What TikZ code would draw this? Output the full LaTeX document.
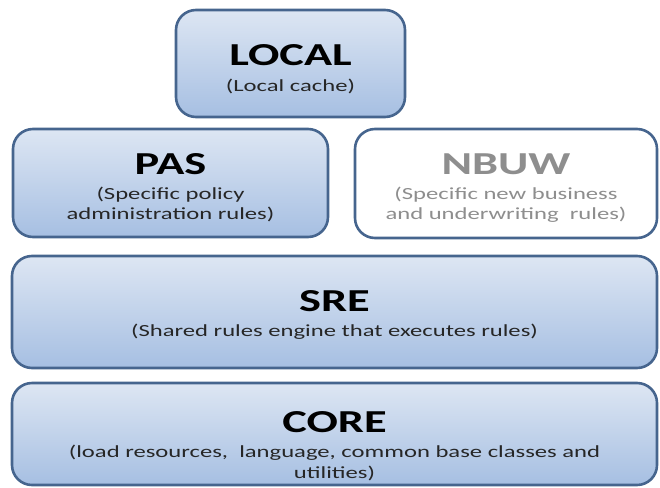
\documentclass[tikz,border=0pt]{standalone}
\usepackage{fontspec}
\setmainfont{Carlito}[FakeStretch=1.45]
\definecolor{boxborder}{HTML}{46658E}
\definecolor{boxtop}{HTML}{DDE6F3}
\definecolor{boxbottom}{HTML}{A6BFE2}
\definecolor{subtext}{HTML}{262626}
\definecolor{greytext}{HTML}{8E8E8E}
\tikzset{
  layerbox/.style={draw=boxborder, line width=2.6pt, rounded corners=20pt,
    top color=boxtop, bottom color=boxbottom, inner sep=0pt},
  whitebox/.style={draw=boxborder, line width=2.6pt, rounded corners=20pt,
    fill=white, inner sep=0pt},
  titletext/.style={anchor=base, inner sep=0pt, font=\fontsize{32}{32}\selectfont\bfseries, text=black},
  subtitletext/.style={anchor=base, inner sep=0pt, font=\fontsize{17}{20.5}\selectfont, text=subtext, align=center},
}
\begin{document}
\begin{tikzpicture}[x=1pt,y=-1pt]
\useasboundingbox (0,0) rectangle (660,487);
% boxes
\node[layerbox, minimum width=229pt, minimum height=107pt] (local) at (290.5,63.5) {};
\node[layerbox, minimum width=315pt, minimum height=108pt] (pas) at (170.5,183) {};
\node[whitebox, minimum width=302pt, minimum height=109pt] (nbuw) at (506,183.5) {};
\node[layerbox, minimum width=645pt, minimum height=112pt] (sre) at (334.5,312) {};
\node[layerbox, minimum width=645pt, minimum height=102pt] (core) at (334.5,434) {};
% texts (base of a two-line text = baseline of its last line)
\node[titletext] (localt) at (290.5,66) {LOCAL};
\node[subtitletext] (locals) at (290.5,91) {(Local cache)};
\node[titletext] (past) at (170.5,174) {PAS};
\node[subtitletext] (pass) at (170.5,219.5) {(Specific policy\\administration rules)};
\node[titletext, text=greytext] (nbuwt) at (506,174) {NBUW};
\node[subtitletext, text=greytext] (nbuws) at (506,219.5) {(Specific new business\\and underwriting\ \ rules)};
\node[titletext] (sret) at (334.5,311) {SRE};
\node[subtitletext] (sres) at (334.5,336) {(Shared rules engine that executes rules)};
\node[titletext] (coret) at (334.5,432) {CORE};
\node[subtitletext] (cores) at (334.5,478) {(load resources,\ \ language, common base classes and\\utilities)};
\end{tikzpicture}
\end{document}
